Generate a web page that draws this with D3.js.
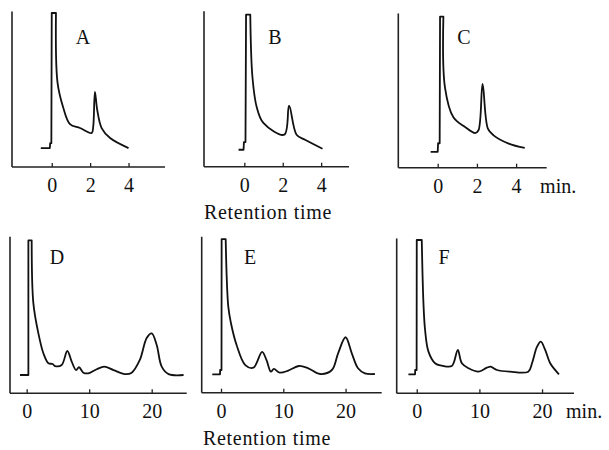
<!DOCTYPE html>
<html>
<head>
<meta charset="utf-8">
<script src="https://cdn.jsdelivr.net/npm/d3@7"></script>
<style>
  body { margin: 0; background: #fff; }
  text { font-family: "Liberation Serif", "DejaVu Serif", serif; fill: #111; }
</style>
</head>
<body>
<div id="chart"></div>
<script>
// chromatogram traces: [retention time (min), detector response (% of full scale)]
var traceA = [[-0.57, 12.3], [-0.1, 12.3], [-0.08, 15.5], [-0.02, 15.5], [0, 100], [0.22, 100], [0.3, 55],
  [0.59, 39], [0.95, 27.9], [1.47, 25.3], [2.08, 22], [2.16, 26], [2.25, 48.7], [2.37, 37], [2.6, 25.3],
  [3.04, 18.8], [4.0, 12.3]]
var traceB = [[-0.3, 11], [-0.04, 11], [-0.02, 16], [0.06, 16], [0.09, 98.7], [0.31, 98.7], [0.42, 58.6],
  [0.64, 39], [0.99, 28.5], [2.08, 20.8], [2.33, 39.6], [2.72, 20.8], [3.16, 17.5], [4.07, 11.7]]
var traceC = [[-0.36, 10.4], [0, 10.4], [0.02, 16], [0.1, 16], [0.12, 99], [0.29, 99], [0.37, 52.6],
  [0.8, 33], [1.4, 26.6], [1.91, 22.7], [2.08, 24.5], [2.29, 54.8], [2.56, 25.6], [2.85, 21.2],
  [3.62, 15.8], [4.44, 13]]
var traceD = [[-1.07, 11.8], [0.15, 11.8], [0.27, 11.8], [0.27, 98.6], [0.8, 98.6], [1.07, 58], [1.87, 38.7],
  [2.67, 25.8], [3.47, 19.4], [4.16, 18.9], [4.53, 17.6], [5.6, 18.3], [6.5, 27.3], [7.2, 20.4], [7.9, 15],
  [8.37, 16.8], [9.07, 13.3], [9.87, 12.9], [11.2, 15.5], [12.4, 17.2], [13.9, 15], [15.7, 12.4],
  [16.8, 13.3], [18.1, 21.5], [19.2, 35.7], [20, 38.7], [20.8, 31.2], [21.6, 17.2], [22.7, 12.4], [25.1, 11.8]]
var traceE = [[-1.4, 11.9], [-0.16, 11.9], [-0.14, 14.7], [0.08, 14.7], [0.1, 99.5], [0.75, 99.5], [1.17, 55.7],
  [1.6, 45], [2.5, 30.9], [3.9, 17.9], [5.2, 16.2], [6.6, 26.5], [7.3, 21.2], [8.0, 13.6], [8.5, 15.4],
  [9.4, 13], [10.8, 14.3], [12.5, 17.3], [14.0, 15.8], [15.9, 12.1], [17.8, 14.7], [18.8, 25.5], [20, 35.9],
  [21.0, 25.5], [22.0, 15.8], [23.1, 12.5], [24.7, 12.1]]
var traceF = [[-1.33, 12.4], [-0.27, 12.4], [-0.25, 15.2], [-0.02, 15.2], [0, 100], [0.8, 100], [1.07, 58.7],
  [1.33, 41.3], [1.87, 27.2], [2.93, 19.6], [4.27, 17.8], [5.6, 17.8], [5.97, 20.7], [6.56, 28.3], [7.2, 19.6],
  [8.27, 16.3], [9.87, 14.1], [11.2, 16.7], [11.8, 17.4], [12.8, 15.2], [14.9, 14.1], [17.8, 14.1],
  [18.4, 19.6], [19.2, 30.4], [19.8, 33.7], [20.5, 28.3], [21.3, 19.6], [22.7, 12.4]]

var panelLabels = ["A", "B", "C", "D", "E", "F"]
var topTicks = [0, 2, 4]
var bottomTicks = [0, 10, 20]

var width = 609
var height = 450

// pixel frame of each panel: axis left/right/top/bottom and the time shown at the ends of the x axis
var panels = [
  { data: traceA, ticks: topTicks, left: 12, right: 165, top: 13, bottom: 167, t0: -2.07, t1: 5.9, lx: 83, ly: 37 },
  { data: traceB, ticks: topTicks, left: 204, right: 349, top: 12.7, bottom: 166.7, t0: -2.1, t1: 5.45, lx: 275, ly: 37 },
  { data: traceC, ticks: topTicks, left: 398.3, right: 546.7, top: 15, bottom: 167.7, t0: -2.01, t1: 5.56, lx: 464, ly: 37, unit: true },
  { data: traceD, ticks: bottomTicks, left: 10, right: 186.7, top: 238.3, bottom: 393.3, t0: -2.67, t1: 25.6, lx: 57, ly: 257 },
  { data: traceE, ticks: bottomTicks, left: 201.7, right: 381.7, top: 238.3, bottom: 392.7, t0: -3.1, t1: 25.8, lx: 250, ly: 257 },
  { data: traceF, ticks: bottomTicks, left: 396.7, right: 574, top: 240, bottom: 393.3, t0: -3.2, t1: 25.1, lx: 444, ly: 257, unit: true }
]

var svg = d3.select("#chart")
  .append("svg")
  .attr("width", width)
  .attr("height", height)

panels.forEach(function (p, i) {
  var x = d3.scaleLinear().domain([p.t0, p.t1]).range([p.left, p.right])
  var y = d3.scaleLinear().domain([0, 100]).range([p.bottom, p.top])
  var g = svg.append("g").attr("class", "panel")

  // y axis (plain vertical line, no ticks)
  g.append("line")
    .attr("x1", p.left).attr("x2", p.left)
    .attr("y1", y(101)).attr("y2", p.bottom)
    .attr("stroke", "#222").attr("stroke-width", 1.6)

  // x axis line
  g.append("line")
    .attr("x1", p.left).attr("x2", p.right)
    .attr("y1", p.bottom).attr("y2", p.bottom)
    .attr("stroke", "#222").attr("stroke-width", 1.6)

  var xAxisCall = d3.axisBottom(x)
    .tickValues(p.ticks)
    .tickSize(-4)
    .tickPadding(11)
    .tickFormat(d3.format("d"))
  var ax = g.append("g")
    .attr("transform", "translate(0," + p.bottom + ")")
    .call(xAxisCall)
  ax.select(".domain").remove()
  ax.selectAll(".tick line").attr("stroke", "#222").attr("stroke-width", 1.3)
  ax.selectAll(".tick text")
    .attr("font-size", "20px")
    .attr("fill", "#111")
    .style("font-family", "'Liberation Serif', serif")

  if (p.unit) {
    g.append("text")
      .attr("x", x(p.ticks[2]) + 24)
      .attr("y", p.bottom + 25)
      .attr("font-size", "20px")
      .text("min.")
  }

  // solvent peak is drawn straight (pen hits full scale), the rest smooth
  var topIdx = d3.maxIndex(p.data, function (d) { return d[1] })
  while (topIdx + 1 < p.data.length && p.data[topIdx + 1][1] === p.data[topIdx][1]) topIdx++
  var head = p.data.slice(0, topIdx + 1)
  var tail = p.data.slice(topIdx)

  var straight = d3.line()
    .x(function (d) { return x(d[0]) })
    .y(function (d) { return y(d[1]) })
  var smooth = d3.line()
    .x(function (d) { return x(d[0]) })
    .y(function (d) { return y(d[1]) })
    .curve(d3.curveCatmullRom.alpha(0.5))

  g.append("path")
    .attr("fill", "none")
    .attr("stroke", "#111")
    .attr("stroke-width", 1.8)
    .attr("stroke-linejoin", "round")
    .attr("d", straight(head) + smooth(tail).replace(/^M[^A-Za-z]*/, ""))

  g.append("text")
    .attr("x", p.lx)
    .attr("y", p.ly + 7)
    .attr("text-anchor", "middle")
    .attr("font-size", "20px")
    .text(panelLabels[i])
})

// shared x titles under the middle column
svg.append("text")
  .attr("x", 268).attr("y", 219)
  .attr("text-anchor", "middle")
  .attr("font-size", "20px")
  .attr("letter-spacing", "0.7px")
  .text("Retention time")
svg.append("text")
  .attr("x", 267).attr("y", 445)
  .attr("text-anchor", "middle")
  .attr("font-size", "20px")
  .attr("letter-spacing", "0.7px")
  .text("Retention time")
</script>
</body>
</html>
